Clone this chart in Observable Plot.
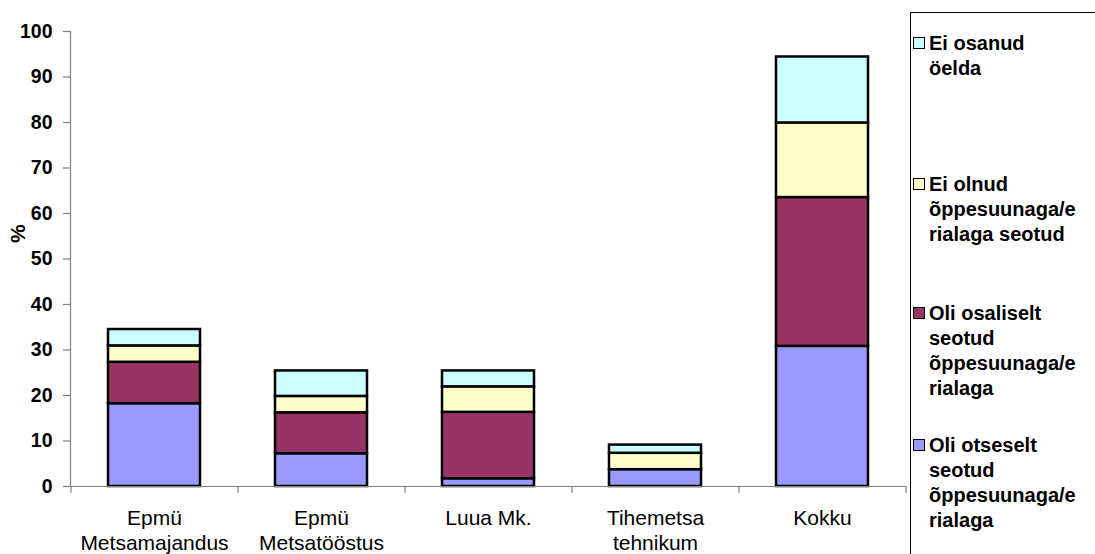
<!DOCTYPE html>
<html>
<head>
<meta charset="utf-8">
<script src="https://cdn.jsdelivr.net/npm/d3@7"></script>
<script src="https://cdn.jsdelivr.net/npm/@observablehq/plot@0.6"></script>
<style>
  html, body { margin: 0; padding: 0; background: #fff; }
  #wrap { position: relative; width: 1095px; height: 554px; overflow: hidden; font-family: "Liberation Sans", Arial, sans-serif; }
  #chart { position: absolute; left: 0; top: 0; }
  #legend { position: absolute; left: 910px; top: 12px; width: 200px; height: 560px; border: 1px solid #000; box-sizing: border-box; }
  .item { position: absolute; left: 18px; font-weight: bold; font-size: 20px; line-height: 25px; color: #000; white-space: pre; }
  .sw { position: absolute; left: -16px; top: 6px; width: 10px; height: 10px; border: 1.5px solid #000; }
</style>
</head>
<body>
<div id="wrap">
  <div id="chart"></div>
  <div id="legend"></div>
</div>
<script>
const categories = ["Epmü\nMetsamajandus", "Epmü\nMetsatööstus", "Luua Mk.", "Tihemetsa\ntehnikum", "Kokku"];
const seriesNames = [
  "Oli otseselt seotud õppesuunaga/erialaga",
  "Oli osaliselt seotud õppesuunaga/erialaga",
  "Ei olnud õppesuunaga/erialaga seotud",
  "Ei osanud öelda"
];
const legendLabels = [
  "Oli otseselt\nseotud\nõppesuunaga/e\nrialaga",
  "Oli osaliselt\nseotud\nõppesuunaga/e\nrialaga",
  "Ei olnud\nõppesuunaga/e\nrialaga seotud",
  "Ei osanud\nöelda"
];
const seriesColors = ["#9999FF", "#993366", "#FFFFCC", "#CCFFFF"];
const otseselt = [18.2, 7.2, 1.7, 3.7, 30.8];
const osaliselt = [9.1, 9.0, 14.6, 0, 32.7];
const eiOlnud = [3.6, 3.6, 5.6, 3.6, 16.4];
const eiOsanud = [3.6, 5.6, 3.5, 1.8, 14.5];
const yTicks = [0, 10, 20, 30, 40, 50, 60, 70, 80, 90, 100];

const seriesValues = [otseselt, osaliselt, eiOlnud, eiOsanud];
const data = [];
seriesNames.forEach((s, si) => categories.forEach((c, ci) => data.push({cat: c, series: s, value: seriesValues[si][ci]})));

const font = "'Liberation Sans', Arial, sans-serif";
const step = (910 - 70 - 5) / categories.length;

const chart = Plot.plot({
  width: 910,
  height: 554,
  marginLeft: 70,
  marginRight: 5,
  marginTop: 31,
  marginBottom: 68,
  style: {fontFamily: font, background: "#fff", color: "#000", overflow: "visible"},
  x: {domain: categories, paddingInner: 0.45, paddingOuter: 0.225},
  y: {domain: [0, 100]},
  color: {domain: seriesNames, range: seriesColors},
  marks: [
    Plot.barY(data, {x: "cat", y: "value", z: "series", fill: "series", order: seriesNames, stroke: "#000", strokeWidth: 2.5}),
    Plot.frame({anchor: "left", stroke: "#808080", strokeWidth: 1.2}),
    Plot.frame({anchor: "bottom", stroke: "#808080", strokeWidth: 1.2}),
    Plot.ruleX(categories, {x: d => d, y1: 0, y2: -1.55, dx: -step / 2, stroke: "#808080", strokeWidth: 1.2}),
    Plot.ruleX(categories.slice(-1), {x: d => d, y1: 0, y2: -1.55, dx: step / 2, stroke: "#808080", strokeWidth: 1.2}),
    Plot.axisY({ticks: yTicks, tickSize: 7, tickPadding: 11, tickFormat: d => String(d), label: null, fontSize: 19.5, fontWeight: "bold", stroke: "#808080", strokeWidth: 1.2}),
    Plot.axisX({tickSize: 0, tickPadding: 21, label: null, fontSize: 21, lineHeight: 1.17}),
    Plot.text(["%"], {text: d => d, frameAnchor: "left", dx: -52, dy: -16, rotate: -90, fontWeight: "bold", fontSize: 21})
  ]
});
document.getElementById("chart").appendChild(chart);

// legend (top-to-bottom order as in reference)
const legendTops = [18, 159, 288, 420];
const legend = document.getElementById("legend");
[3, 2, 1, 0].forEach((si, i) => {
  const it = document.createElement("div");
  it.className = "item";
  it.style.top = legendTops[i] + "px";
  it.textContent = legendLabels[si];
  const sw = document.createElement("div");
  sw.className = "sw";
  sw.style.background = seriesColors[si];
  it.appendChild(sw);
  legend.appendChild(it);
});
</script>
</body>
</html>
